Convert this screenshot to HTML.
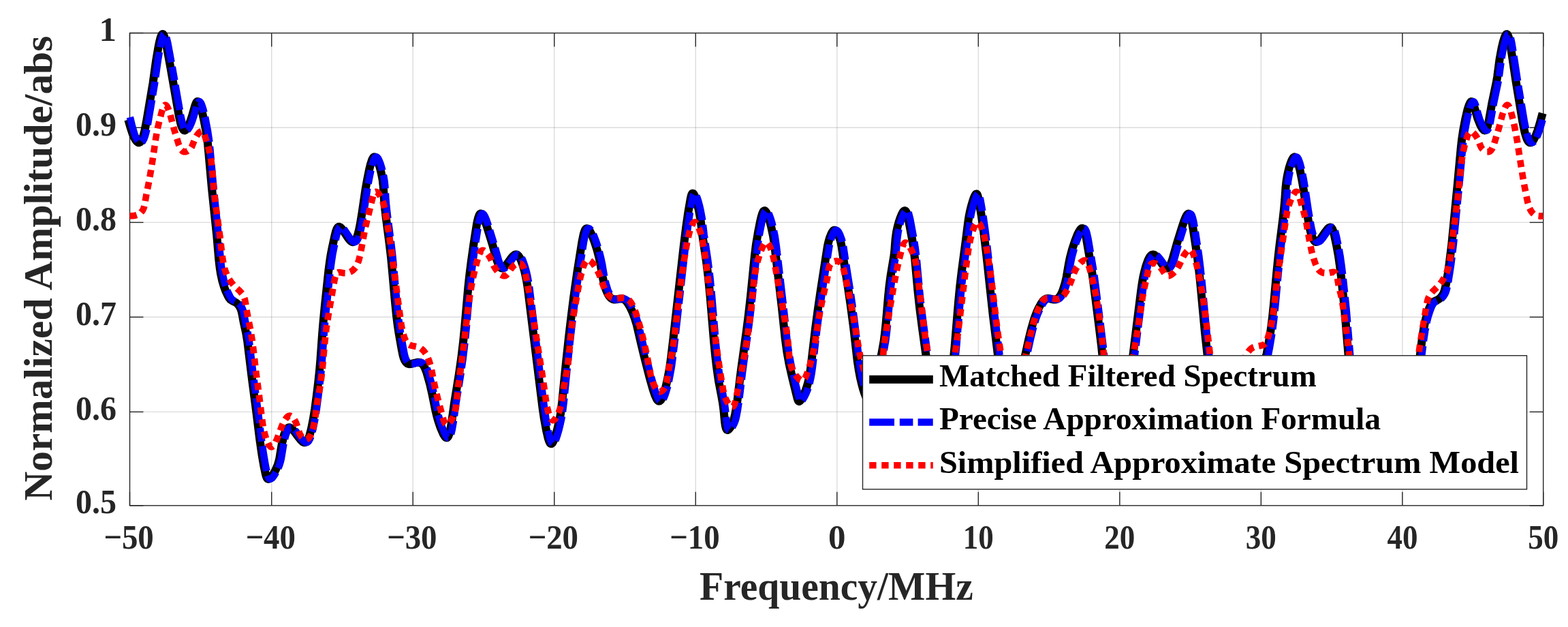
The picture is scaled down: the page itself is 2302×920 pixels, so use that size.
<!DOCTYPE html>
<html><head><meta charset="utf-8"><title>Normalized Amplitude vs Frequency</title>
<style>
html,body{margin:0;padding:0;background:#fff;}
body{width:2302px;height:920px;overflow:hidden;}
svg{display:block;}
text{font-family:"Liberation Serif",serif;font-weight:bold;}
</style></head><body>
<svg width="2302" height="920" viewBox="0 0 2302 920">
<rect x="0" y="0" width="2302" height="920" fill="#ffffff"/>
<g stroke="#262626" stroke-opacity="0.16" stroke-width="1.4" fill="none">
<line x1="398.72" y1="48.5" x2="398.72" y2="741.8"/>
<line x1="606.24" y1="48.5" x2="606.24" y2="741.8"/>
<line x1="813.76" y1="48.5" x2="813.76" y2="741.8"/>
<line x1="1021.28" y1="48.5" x2="1021.28" y2="741.8"/>
<line x1="1228.80" y1="48.5" x2="1228.80" y2="741.8"/>
<line x1="1436.32" y1="48.5" x2="1436.32" y2="741.8"/>
<line x1="1643.84" y1="48.5" x2="1643.84" y2="741.8"/>
<line x1="1851.36" y1="48.5" x2="1851.36" y2="741.8"/>
<line x1="2058.88" y1="48.5" x2="2058.88" y2="741.8"/>
<line x1="190.5" y1="604.40" x2="2265.7" y2="604.40"/>
<line x1="190.5" y1="465.30" x2="2265.7" y2="465.30"/>
<line x1="190.5" y1="326.40" x2="2265.7" y2="326.40"/>
<line x1="190.5" y1="187.30" x2="2265.7" y2="187.30"/>
</g>
<g stroke="#262626" stroke-width="1.4" fill="none">
<line x1="190.50" y1="741.8" x2="190.50" y2="721.80"/>
<line x1="190.50" y1="48.5" x2="190.50" y2="68.50"/>
<line x1="398.72" y1="741.8" x2="398.72" y2="721.80"/>
<line x1="398.72" y1="48.5" x2="398.72" y2="68.50"/>
<line x1="606.24" y1="741.8" x2="606.24" y2="721.80"/>
<line x1="606.24" y1="48.5" x2="606.24" y2="68.50"/>
<line x1="813.76" y1="741.8" x2="813.76" y2="721.80"/>
<line x1="813.76" y1="48.5" x2="813.76" y2="68.50"/>
<line x1="1021.28" y1="741.8" x2="1021.28" y2="721.80"/>
<line x1="1021.28" y1="48.5" x2="1021.28" y2="68.50"/>
<line x1="1228.80" y1="741.8" x2="1228.80" y2="721.80"/>
<line x1="1228.80" y1="48.5" x2="1228.80" y2="68.50"/>
<line x1="1436.32" y1="741.8" x2="1436.32" y2="721.80"/>
<line x1="1436.32" y1="48.5" x2="1436.32" y2="68.50"/>
<line x1="1643.84" y1="741.8" x2="1643.84" y2="721.80"/>
<line x1="1643.84" y1="48.5" x2="1643.84" y2="68.50"/>
<line x1="1851.36" y1="741.8" x2="1851.36" y2="721.80"/>
<line x1="1851.36" y1="48.5" x2="1851.36" y2="68.50"/>
<line x1="2058.88" y1="741.8" x2="2058.88" y2="721.80"/>
<line x1="2058.88" y1="48.5" x2="2058.88" y2="68.50"/>
<line x1="2265.70" y1="741.8" x2="2265.70" y2="721.80"/>
<line x1="2265.70" y1="48.5" x2="2265.70" y2="68.50"/>
<line x1="190.5" y1="741.80" x2="210.50" y2="741.80"/>
<line x1="2265.7" y1="741.80" x2="2245.70" y2="741.80"/>
<line x1="190.5" y1="604.40" x2="210.50" y2="604.40"/>
<line x1="2265.7" y1="604.40" x2="2245.70" y2="604.40"/>
<line x1="190.5" y1="465.30" x2="210.50" y2="465.30"/>
<line x1="2265.7" y1="465.30" x2="2245.70" y2="465.30"/>
<line x1="190.5" y1="326.40" x2="210.50" y2="326.40"/>
<line x1="2265.7" y1="326.40" x2="2245.70" y2="326.40"/>
<line x1="190.5" y1="187.30" x2="210.50" y2="187.30"/>
<line x1="2265.7" y1="187.30" x2="2245.70" y2="187.30"/>
<line x1="190.5" y1="48.50" x2="210.50" y2="48.50"/>
<line x1="2265.7" y1="48.50" x2="2245.70" y2="48.50"/>
<rect x="190.5" y="48.5" width="2075.20" height="693.30"/>
</g>
<g fill="#262626" font-size="51">
<text x="189.00" y="804.5" text-anchor="middle" textLength="73.6" lengthAdjust="spacingAndGlyphs">−50</text>
<text x="397.22" y="804.5" text-anchor="middle" textLength="73.6" lengthAdjust="spacingAndGlyphs">−40</text>
<text x="604.74" y="804.5" text-anchor="middle" textLength="73.6" lengthAdjust="spacingAndGlyphs">−30</text>
<text x="812.26" y="804.5" text-anchor="middle" textLength="73.6" lengthAdjust="spacingAndGlyphs">−20</text>
<text x="1019.78" y="804.5" text-anchor="middle" textLength="73.6" lengthAdjust="spacingAndGlyphs">−10</text>
<text x="1228.80" y="804.5" text-anchor="middle">0</text>
<text x="1436.32" y="804.5" text-anchor="middle" textLength="45" lengthAdjust="spacingAndGlyphs">10</text>
<text x="1643.84" y="804.5" text-anchor="middle" textLength="45" lengthAdjust="spacingAndGlyphs">20</text>
<text x="1851.36" y="804.5" text-anchor="middle" textLength="45" lengthAdjust="spacingAndGlyphs">30</text>
<text x="2058.88" y="804.5" text-anchor="middle" textLength="45" lengthAdjust="spacingAndGlyphs">40</text>
<text x="2265.70" y="804.5" text-anchor="middle" textLength="45" lengthAdjust="spacingAndGlyphs">50</text>
<text x="171" y="753.30" text-anchor="end" textLength="60" lengthAdjust="spacingAndGlyphs">0.5</text>
<text x="171" y="615.90" text-anchor="end" textLength="60" lengthAdjust="spacingAndGlyphs">0.6</text>
<text x="171" y="476.80" text-anchor="end" textLength="60" lengthAdjust="spacingAndGlyphs">0.7</text>
<text x="171" y="337.90" text-anchor="end" textLength="60" lengthAdjust="spacingAndGlyphs">0.8</text>
<text x="171" y="198.80" text-anchor="end" textLength="60" lengthAdjust="spacingAndGlyphs">0.9</text>
<text x="171" y="60.00" text-anchor="end">1</text>
</g>
<text x="1227.85" y="880.3" text-anchor="middle" font-size="60" fill="#262626" textLength="401.7" lengthAdjust="spacingAndGlyphs">Frequency/MHz</text>
<text transform="translate(76.2,393.7) rotate(-90)" x="0" y="0" text-anchor="middle" font-size="60" fill="#262626" textLength="682" lengthAdjust="spacingAndGlyphs">Normalized Amplitude/abs</text>
<g fill="none" stroke-linejoin="round">
<path d="M188.3 175.7L191.6 187.2 194.5 195.8 197.2 202.2 199.8 206.5 201.9 208.6 202.8 209.1 203.8 209.3 204.7 209.1 205.6 208.6 207.0 207.1 208.0 205.4 209.2 202.7 210.5 198.9 212.1 193.1 215.0 178.4 224.5 122.2 229.2 88.5 232.6 68.8 234.2 61.0 235.7 55.2 237.2 51.4 237.8 50.6 238.6 50.0 239.5 50.3 240.1 51.1 240.9 52.9 242.2 56.7 243.8 63.5 250.7 100.9 262.7 169.8 265.4 181.6 266.5 185.4 267.7 188.1 269.4 190.6 270.2 191.2 271.1 191.4 272.1 191.1 273.6 189.7 275.8 186.4 277.9 181.9 280.0 176.3 282.2 169.6 286.3 155.2 287.7 151.5 288.7 149.7 289.5 149.0 290.4 149.0 291.2 149.6 292.4 151.2 293.6 153.9 294.9 157.7 296.3 162.5 299.2 175.2 302.4 191.9 304.6 206.7 305.9 219.7 311.0 276.4 318.2 345.1 321.4 381.9 322.7 392.9 324.1 401.8 326.2 411.5 328.7 420.2 331.5 427.7 335.0 434.9 336.5 437.4 338.5 439.7 341.0 441.3 346.4 444.0 348.0 445.2 350.1 447.3 351.8 449.8 353.1 452.5 354.2 455.3 355.2 459.2 357.8 472.9 361.2 488.5 363.2 500.4 369.6 553.0 376.7 607.6 381.5 646.3 384.5 667.0 387.4 683.8 390.1 696.5 391.0 699.4 391.8 701.2 393.1 702.7 394.1 702.9 395.0 702.7 396.7 701.6 398.7 699.4 400.4 696.9 404.4 690.0 407.6 682.6 409.1 677.9 410.3 673.0 413.7 652.3 416.1 641.6 417.2 637.7 418.6 634.0 419.9 631.3 421.6 628.8 423.2 627.6 424.2 627.3 425.2 627.3 426.1 627.6 427.8 628.6 430.0 630.7 431.9 633.0 439.1 642.6 441.6 645.7 444.5 648.4 446.4 649.2 447.3 649.3 448.3 649.0 449.2 648.6 450.6 647.2 452.6 643.7 454.4 639.1 457.0 629.4 459.9 614.7 462.3 599.9 464.8 581.0 467.2 561.2 469.0 544.3 470.4 528.3 473.1 490.4 474.6 472.5 476.9 448.6 482.4 396.9 484.1 384.0 485.6 374.1 487.7 363.3 491.5 345.7 493.0 339.9 494.4 336.1 496.0 333.6 496.8 333.0 497.8 332.8 498.7 333.1 499.6 333.6 501.1 334.9 502.4 336.4 504.7 339.6 511.4 349.6 513.2 352.0 515.3 354.1 517.1 355.1 518.1 355.2 519.0 355.0 519.9 354.5 521.3 353.1 522.9 350.6 524.4 346.9 525.6 343.1 527.1 337.2 528.5 330.4 531.5 312.6 536.7 277.0 539.2 263.2 542.2 248.5 544.1 240.8 546.0 235.0 546.8 233.2 547.8 231.5 548.5 230.8 549.4 230.3 550.4 230.5 551.2 231.0 552.5 232.5 553.9 235.2 555.8 239.8 557.6 245.5 559.1 251.3 560.6 258.2 561.7 264.1 562.7 273.0 563.8 291.0 564.7 301.9 566.4 316.8 571.8 358.5 574.0 377.4 575.9 397.3 580.0 443.1 582.1 464.0 583.9 477.9 585.7 489.8 589.9 513.4 591.5 521.2 592.6 525.1 594.2 528.8 595.8 531.3 598.0 533.3 599.8 534.0 600.8 534.2 602.8 534.1 611.6 532.0 613.5 531.7 615.5 531.7 617.4 532.3 619.9 534.0 621.8 536.3 623.3 538.9 624.9 542.6 626.6 547.3 631.2 563.7 634.1 576.3 639.5 602.8 641.4 610.6 643.3 617.3 646.5 626.8 650.0 635.1 651.3 637.8 652.9 640.3 654.2 641.8 655.1 642.3 656.1 642.3 656.9 641.8 657.6 641.1 658.6 639.3 659.9 635.6 661.3 629.7 663.0 619.9 666.9 592.1 673.9 548.7 677.3 524.9 680.0 502.1 682.2 480.2 687.3 422.4 689.2 404.5 691.7 384.6 695.3 358.9 699.9 329.3 701.1 323.4 702.1 319.5 703.5 315.7 704.5 314.1 705.3 313.5 706.3 313.5 707.8 314.9 709.3 317.4 711.3 322.0 714.2 330.5 722.8 358.2 729.6 382.3 731.0 386.1 732.2 388.8 733.2 390.5 734.4 392.1 735.9 393.4 736.9 393.6 737.9 393.6 738.8 393.2 740.4 392.0 743.7 388.3 749.5 380.1 752.0 377.0 753.4 375.6 755.0 374.3 756.8 373.5 757.8 373.4 758.7 373.6 759.6 374.1 761.1 375.4 762.3 377.0 763.8 379.6 765.1 382.3 767.8 389.9 770.0 397.5 771.8 405.3 773.3 413.2 774.7 422.1 796.6 598.8 798.8 613.6 801.8 630.3 804.7 643.0 805.9 646.8 807.2 649.5 807.7 650.4 808.5 651.0 809.5 651.1 810.3 650.6 811.0 649.9 812.5 647.3 814.0 643.6 815.9 637.9 818.1 630.2 820.2 621.5 821.9 613.6 823.2 605.7 825.2 589.9 831.1 531.2 835.2 493.4 838.6 464.6 842.1 436.8 847.3 400.1 854.5 354.7 856.7 343.9 857.9 340.1 859.0 337.3 860.2 335.7 861.1 335.2 862.0 335.2 862.9 335.6 864.4 337.0 866.1 339.4 868.0 343.0 870.0 347.5 872.5 354.1 876.5 366.5 879.5 378.1 881.6 387.9 884.7 406.6 886.7 415.4 889.6 424.9 891.1 428.6 892.9 432.2 894.5 434.8 896.5 437.0 898.1 438.2 899.9 439.1 900.8 439.4 902.8 439.5 904.8 439.3 909.7 438.4 912.7 438.2 914.7 438.6 917.3 440.0 918.8 441.3 920.1 442.8 922.4 446.1 925.4 451.3 928.4 457.6 931.9 467.0 934.8 476.6 941.6 505.8 945.6 522.3 953.5 553.3 958.7 571.6 961.6 580.1 964.1 585.6 965.3 587.2 966.8 588.5 967.8 588.6 968.7 588.3 970.2 587.0 972.2 583.5 973.7 579.8 975.6 574.1 977.7 566.4 979.7 557.6 981.6 547.8 983.2 539.0 985.0 526.1 988.2 499.3 1003.4 364.1 1007.1 334.3 1010.2 312.5 1013.6 292.8 1014.4 288.9 1015.2 286.0 1016.1 284.2 1016.9 283.7 1017.8 284.1 1018.5 284.8 1019.5 286.6 1021.0 290.3 1022.6 295.0 1024.4 301.8 1026.0 308.6 1028.4 321.4 1031.1 344.2 1036.7 381.8 1039.9 407.6 1042.6 435.5 1048.3 503.2 1050.2 522.2 1052.0 538.0 1055.0 558.8 1059.5 582.4 1061.2 592.3 1062.5 602.2 1064.0 618.1 1064.8 624.1 1065.7 628.0 1066.5 629.8 1067.1 630.6 1067.9 631.0 1068.9 630.8 1070.4 629.5 1072.8 626.3 1075.1 621.9 1076.6 618.2 1077.8 614.4 1078.9 609.5 1080.2 602.6 1082.6 586.8 1087.9 543.1 1095.5 488.6 1098.6 464.8 1102.1 434.0 1107.8 376.3 1110.0 358.4 1113.0 340.7 1115.9 325.9 1117.7 318.1 1119.2 313.4 1120.4 310.6 1121.0 309.8 1121.8 309.2 1122.7 309.1 1123.6 309.7 1124.3 310.4 1125.4 312.1 1127.0 315.7 1128.7 320.4 1130.5 326.1 1132.2 332.9 1135.1 346.6 1137.3 361.5 1147.7 449.9 1152.7 496.6 1155.4 516.4 1158.6 534.1 1163.5 555.6 1170.7 584.7 1171.7 587.6 1172.2 588.4 1172.9 589.0 1173.9 588.8 1174.6 588.2 1175.8 586.6 1178.4 582.3 1181.0 576.9 1182.9 572.2 1184.5 567.5 1186.2 561.7 1187.5 555.9 1189.0 548.0 1190.3 539.1 1197.0 482.5 1200.7 454.7 1204.7 427.0 1214.5 363.8 1215.4 358.9 1216.6 354.0 1218.0 349.2 1219.4 345.5 1220.6 342.7 1222.1 340.1 1223.3 338.5 1224.1 337.9 1225.1 337.7 1226.0 337.9 1227.6 339.2 1229.2 341.7 1230.5 344.3 1232.0 348.1 1233.6 352.8 1234.6 356.7 1235.6 361.6 1238.7 382.4 1245.1 422.9 1248.6 446.6 1253.2 481.3 1258.8 530.0 1260.8 542.8 1263.0 554.6 1265.1 563.4 1267.2 571.1 1269.4 577.8 1271.3 582.4 1273.9 586.7 1275.2 588.2 1276.0 588.8 1277.0 589.0 1277.8 588.6 1279.0 587.0 1280.1 584.2 1281.2 580.3 1284.5 566.7 1294.2 519.7 1297.7 500.0 1299.1 489.1 1300.4 477.2 1303.9 436.3 1305.6 419.4 1307.6 404.5 1312.5 374.9 1313.3 368.0 1314.6 351.0 1316.1 340.1 1317.6 333.3 1319.4 326.5 1321.6 319.9 1323.5 315.2 1325.3 311.7 1326.5 310.1 1327.3 309.4 1328.2 309.1 1329.1 309.3 1329.9 310.0 1330.9 311.7 1331.6 313.6 1333.6 321.3 1338.9 349.8 1341.3 364.6 1343.4 382.5 1347.5 427.3 1350.2 452.2 1353.8 480.0 1363.6 551.3 1366.1 572.2 1368.5 594.0 1369.5 601.0 1370.6 606.9 1371.8 611.7 1373.4 616.5 1374.9 620.2 1377.1 624.7 1379.2 628.1 1380.5 629.6 1381.3 630.2 1382.2 630.4 1383.1 629.9 1384.1 628.2 1385.4 623.4 1389.2 593.6 1395.3 559.2 1398.2 539.4 1400.0 524.5 1401.7 507.6 1406.9 444.8 1409.4 418.9 1411.9 398.0 1417.7 354.4 1421.6 323.6 1422.7 316.7 1424.1 309.9 1426.0 302.1 1428.0 295.4 1429.6 290.6 1431.2 287.0 1432.3 285.3 1433.0 284.6 1433.9 284.5 1434.6 285.3 1435.4 287.1 1437.1 294.9 1440.7 315.6 1443.8 337.4 1448.0 372.1 1457.7 461.6 1463.7 510.3 1466.3 532.1 1467.6 542.0 1469.2 550.9 1471.3 560.7 1473.5 569.4 1475.5 576.1 1477.5 581.7 1479.2 585.3 1481.0 587.8 1481.8 588.4 1482.7 588.8 1483.7 588.7 1484.5 588.1 1485.8 586.6 1486.8 584.9 1488.7 580.3 1491.2 572.7 1498.2 548.7 1501.4 537.1 1504.2 525.4 1510.7 496.1 1514.3 481.6 1518.3 468.1 1520.3 462.5 1522.6 456.9 1525.6 450.6 1528.5 445.4 1530.8 442.1 1532.2 440.7 1533.7 439.4 1535.5 438.4 1536.4 438.1 1538.4 437.9 1540.4 438.1 1547.3 439.5 1549.3 439.5 1550.3 439.3 1552.1 438.5 1553.7 437.4 1555.7 435.1 1557.4 432.6 1559.1 429.0 1560.6 425.3 1563.6 415.8 1565.6 407.0 1569.0 387.3 1571.0 377.5 1574.1 365.9 1577.8 354.5 1581.8 344.3 1584.1 339.8 1585.7 337.3 1587.0 335.8 1587.9 335.2 1588.8 335.0 1589.7 335.3 1591.0 336.8 1591.9 338.6 1592.9 341.4 1594.9 350.2 1602.3 393.6 1604.8 410.4 1613.5 478.8 1617.0 507.6 1619.9 535.5 1624.6 586.3 1625.7 596.2 1626.9 604.1 1628.3 612.0 1630.2 620.8 1632.6 630.5 1635.1 639.2 1637.0 644.9 1638.6 648.5 1639.7 650.2 1640.4 650.9 1641.3 651.3 1642.2 650.9 1643.4 649.4 1644.6 646.6 1645.8 642.8 1648.7 630.1 1651.8 612.4 1654.0 596.5 1675.4 424.8 1677.0 414.0 1678.4 406.1 1680.2 398.3 1682.3 390.6 1685.0 383.0 1686.2 380.3 1687.6 377.6 1688.7 376.0 1690.1 374.6 1691.9 373.6 1692.9 373.5 1693.8 373.6 1694.8 374.0 1696.4 375.2 1697.8 376.6 1700.4 379.6 1706.8 388.5 1708.8 390.8 1710.2 392.2 1711.9 393.3 1712.8 393.6 1713.8 393.5 1714.8 393.2 1716.3 391.9 1717.4 390.2 1718.4 388.5 1720.9 382.0 1727.7 357.9 1735.4 333.1 1738.3 324.5 1740.1 319.9 1741.9 316.3 1743.0 314.7 1743.8 314.0 1744.7 313.6 1745.6 314.0 1746.3 314.7 1747.3 316.4 1748.5 320.2 1749.7 325.1 1751.8 336.9 1757.5 374.5 1759.6 391.3 1761.8 411.2 1769.1 488.9 1772.8 522.7 1774.8 538.6 1777.0 553.4 1784.0 594.8 1787.2 619.6 1788.3 627.6 1789.5 633.4 1790.5 637.3 1791.6 640.1 1792.7 641.8 1793.5 642.4 1794.5 642.6 1795.4 642.3 1796.9 641.0 1798.7 638.6 1801.0 634.2 1803.5 628.7 1805.5 623.1 1807.3 617.4 1809.5 608.6 1815.4 580.2 1818.8 565.6 1823.6 548.3 1825.3 543.5 1826.9 539.9 1828.4 537.3 1830.2 535.0 1832.6 533.1 1834.5 532.4 1836.4 532.1 1838.4 532.1 1845.4 533.1 1848.4 533.3 1851.3 532.7 1853.1 531.8 1855.2 529.7 1856.8 527.2 1858.3 523.5 1859.5 519.7 1861.6 508.9 1864.1 494.1 1866.2 480.2 1868.0 465.4 1869.9 447.4 1874.0 402.6 1876.5 377.7 1878.5 359.9 1883.3 322.2 1885.1 306.3 1886.3 293.3 1887.5 275.4 1888.6 265.4 1889.6 259.5 1891.0 252.6 1892.7 245.8 1894.5 240.1 1896.3 235.5 1897.7 232.8 1898.9 231.2 1899.7 230.6 1900.6 230.3 1901.6 230.7 1902.3 231.3 1903.4 233.0 1904.2 234.8 1906.2 240.5 1908.4 249.2 1911.0 262.0 1913.1 273.8 1918.5 310.4 1921.9 330.1 1923.3 336.9 1924.8 342.8 1926.0 346.6 1927.5 350.3 1929.1 352.8 1930.5 354.3 1931.3 354.8 1932.3 355.0 1933.3 354.9 1935.1 354.0 1937.3 352.0 1939.2 349.7 1946.1 339.8 1948.5 336.7 1950.6 334.5 1952.3 333.6 1953.3 333.5 1954.2 333.9 1955.0 334.5 1956.1 336.2 1957.6 339.9 1959.1 345.7 1962.2 360.4 1964.9 375.1 1967.0 390.0 1969.1 406.9 1974.0 453.6 1981.2 540.3 1983.5 564.2 1985.8 584.1 1988.0 599.9 1990.9 616.7 1993.7 630.4 1996.0 639.1 1997.8 643.8 1999.9 647.2 2001.3 648.6 2002.2 649.1 2003.1 649.3 2004.1 649.2 2005.9 648.3 2008.8 645.6 2011.4 642.5 2018.5 632.9 2020.5 630.6 2022.7 628.6 2024.4 627.6 2025.4 627.3 2026.3 627.3 2027.3 627.7 2028.8 628.9 2030.5 631.4 2031.8 634.1 2033.2 637.9 2034.3 641.7 2036.5 651.5 2040.1 672.2 2041.5 678.0 2043.0 682.7 2046.6 691.0 2050.4 698.0 2052.1 700.5 2053.4 702.0 2055.0 703.2 2056.0 703.5 2056.9 703.3 2057.7 702.7 2058.3 701.9 2059.2 700.1 2060.2 697.3 2062.7 685.6 2065.4 669.8 2067.7 654.0 2071.8 623.2 2087.7 498.2 2090.0 483.4 2092.3 471.6 2094.1 464.8 2095.8 459.1 2098.2 452.5 2100.3 447.9 2101.9 445.4 2104.0 443.3 2105.7 442.2 2110.2 440.2 2112.8 438.6 2115.0 436.6 2117.5 433.5 2119.4 430.0 2120.8 426.2 2122.0 421.4 2123.6 413.5 2125.6 401.7 2127.6 387.9 2131.2 359.1 2140.3 265.5 2144.7 217.7 2146.1 204.8 2148.2 190.9 2151.2 175.2 2154.1 162.5 2155.5 157.7 2156.8 154.0 2158.1 151.2 2159.2 149.6 2160.1 149.1 2161.0 149.2 2161.7 149.9 2162.7 151.7 2163.7 154.5 2167.9 168.9 2169.7 174.6 2172.3 181.1 2174.4 185.6 2176.5 189.0 2177.9 190.5 2178.7 191.1 2179.6 191.4 2180.6 191.2 2181.4 190.6 2182.5 189.0 2183.9 185.2 2185.6 178.4 2190.5 150.9 2196.9 120.5 2198.2 112.6 2201.6 86.9 2204.7 70.1 2206.8 61.4 2208.9 54.7 2210.6 51.1 2211.2 50.4 2212.2 50.0 2213.0 50.5 2213.6 51.4 2214.4 53.2 2215.5 57.0 2216.8 62.9 2219.7 80.6 2225.5 119.2 2235.5 179.4 2237.2 188.2 2238.8 195.1 2240.5 200.8 2241.9 204.5 2242.9 206.3 2244.1 207.9 2245.7 209.1 2246.7 209.3 2247.6 209.1 2249.3 208.0 2250.6 206.5 2251.7 204.8 2254.4 199.5 2257.6 191.0 2260.5 181.5 2264.7 166.1" stroke="#000000" stroke-width="12"/>
<path d="M190.9 171.9L194.2 185.4 197.5 196.7 199.8 202.2 201.8 205.7 203.0 207.3 204.5 208.6 205.4 209.1 206.4 209.3 207.3 209.1 208.2 208.6 209.6 207.1 211.5 203.6 212.8 199.9 214.5 194.1 216.0 187.2 217.5 179.4 227.0 123.2 232.0 87.5 235.4 67.8 236.8 61.0 238.3 55.2 239.8 51.4 240.4 50.6 241.2 50.0 242.1 50.3 242.7 51.1 243.5 52.9 244.8 56.7 246.4 63.5 253.3 100.9 265.3 169.8 268.0 181.6 269.1 185.4 270.3 188.1 272.0 190.6 272.8 191.2 273.7 191.4 274.7 191.1 276.2 189.7 278.4 186.4 280.5 181.9 282.6 176.3 284.8 169.6 288.9 155.2 290.3 151.5 291.3 149.7 292.1 149.0 293.0 149.0 293.8 149.6 295.0 151.2 296.2 153.9 297.5 157.7 298.9 162.5 301.8 175.2 305.0 191.9 307.2 206.7 308.5 219.7 313.6 276.4 320.8 345.1 324.0 381.9 325.3 392.9 326.7 401.8 328.8 411.5 331.3 420.2 334.1 427.7 337.6 434.9 339.1 437.4 341.1 439.7 343.6 441.3 349.0 444.0 350.6 445.2 352.7 447.3 354.4 449.8 355.7 452.5 356.8 455.3 357.8 459.2 360.4 472.9 363.8 488.5 365.8 500.4 372.2 553.0 379.3 607.6 384.1 646.3 387.1 667.0 390.0 683.8 392.7 696.5 393.6 699.4 394.4 701.2 395.7 702.7 396.7 702.9 397.6 702.7 399.3 701.6 401.3 699.4 403.0 696.9 407.0 690.0 410.2 682.6 411.7 677.9 412.9 673.0 416.3 652.3 418.7 641.6 419.8 637.7 421.2 634.0 422.5 631.3 424.2 628.8 425.8 627.6 426.8 627.3 427.8 627.3 428.7 627.6 430.4 628.6 432.6 630.7 434.5 633.0 441.7 642.6 444.2 645.7 447.1 648.4 449.0 649.2 449.9 649.3 450.9 649.0 451.8 648.6 453.2 647.2 455.2 643.7 457.0 639.1 459.6 629.4 462.5 614.7 464.9 599.9 467.4 581.0 469.8 561.2 471.6 544.3 473.0 528.3 475.7 490.4 477.2 472.5 479.5 448.6 485.0 396.9 486.7 384.0 488.2 374.1 490.3 363.3 494.1 345.7 495.6 339.9 497.0 336.1 498.6 333.6 499.4 333.0 500.4 332.8 501.3 333.1 502.2 333.6 503.7 334.9 505.0 336.4 507.3 339.6 514.0 349.6 515.8 352.0 517.9 354.1 519.7 355.1 520.7 355.2 521.6 355.0 522.5 354.5 523.9 353.1 525.5 350.6 527.0 346.9 528.2 343.1 529.7 337.2 531.1 330.4 534.1 312.6 539.3 277.0 541.8 263.2 544.8 248.5 546.7 240.8 548.6 235.0 549.4 233.2 550.4 231.5 551.1 230.8 552.0 230.3 553.0 230.5 553.8 231.0 555.1 232.5 556.5 235.2 558.4 239.8 560.2 245.5 561.7 251.3 563.2 258.2 564.3 264.1 565.3 273.0 566.4 291.0 567.3 301.9 569.0 316.8 574.4 358.5 576.6 377.4 578.5 397.3 582.6 443.1 584.7 464.0 586.5 477.9 588.3 489.8 592.5 513.4 594.1 521.2 595.2 525.1 596.8 528.8 598.4 531.3 600.6 533.3 602.4 534.0 603.4 534.2 605.4 534.1 614.2 532.0 616.1 531.7 618.1 531.7 620.0 532.3 622.5 534.0 624.4 536.3 625.9 538.9 627.5 542.6 629.2 547.3 633.8 563.7 636.7 576.3 642.1 602.8 644.0 610.6 645.9 617.3 649.1 626.8 652.6 635.1 653.9 637.8 655.5 640.3 656.8 641.8 657.7 642.3 658.7 642.3 659.5 641.8 660.2 641.1 661.2 639.3 662.5 635.6 663.9 629.7 665.6 619.9 669.5 592.1 676.5 548.7 679.9 524.9 682.6 502.1 684.8 480.2 689.9 422.4 691.8 404.5 694.3 384.6 697.9 358.9 702.5 329.3 703.7 323.4 704.7 319.5 706.1 315.7 707.1 314.1 707.9 313.5 708.9 313.5 710.4 314.9 711.9 317.4 713.9 322.0 716.8 330.5 725.4 358.2 732.2 382.3 733.6 386.1 734.8 388.8 735.8 390.5 737.0 392.1 738.5 393.4 739.5 393.6 740.5 393.6 741.4 393.2 743.0 392.0 746.3 388.3 752.1 380.1 754.6 377.0 756.0 375.6 757.6 374.3 759.4 373.5 760.4 373.4 761.3 373.6 762.2 374.1 763.7 375.4 764.9 377.0 766.4 379.6 767.7 382.3 770.4 389.9 772.6 397.5 774.4 405.3 775.9 413.2 777.3 422.1 799.2 598.8 801.4 613.6 804.4 630.3 807.3 643.0 808.5 646.8 809.8 649.5 810.3 650.4 811.1 651.0 812.1 651.1 812.9 650.6 813.6 649.9 815.1 647.3 816.6 643.6 818.5 637.9 820.7 630.2 822.8 621.5 824.5 613.6 825.8 605.7 827.8 589.9 833.7 531.2 837.8 493.4 841.2 464.6 844.7 436.8 849.9 400.1 857.1 354.7 859.3 343.9 860.5 340.1 861.6 337.3 862.8 335.7 863.7 335.2 864.6 335.2 865.5 335.6 867.0 337.0 868.7 339.4 870.6 343.0 872.6 347.5 875.1 354.1 879.1 366.5 882.1 378.1 884.2 387.9 887.3 406.6 889.3 415.4 892.2 424.9 893.7 428.6 895.5 432.2 897.1 434.8 899.1 437.0 900.7 438.2 902.5 439.1 903.4 439.4 905.4 439.5 907.4 439.3 912.3 438.4 915.3 438.2 917.3 438.6 919.9 440.0 921.4 441.3 922.7 442.8 925.0 446.1 928.0 451.3 931.0 457.6 934.5 467.0 937.4 476.6 944.2 505.8 948.2 522.3 956.1 553.3 961.3 571.6 964.2 580.1 966.7 585.6 967.9 587.2 969.4 588.5 970.4 588.6 971.3 588.3 972.8 587.0 974.8 583.5 976.3 579.8 978.2 574.1 980.3 566.4 982.3 557.6 984.2 547.8 985.8 539.0 987.6 526.1 990.8 499.3 1006.0 364.1 1009.7 334.3 1012.8 312.5 1016.2 292.8 1017.0 288.9 1017.8 286.0 1018.7 284.2 1019.5 283.7 1020.4 284.1 1021.1 284.8 1022.1 286.6 1023.6 290.3 1025.2 295.0 1027.0 301.8 1028.6 308.6 1031.0 321.4 1033.7 344.2 1039.3 381.8 1042.5 407.6 1045.2 435.5 1050.9 503.2 1052.8 522.2 1054.6 538.0 1057.6 558.8 1062.1 582.4 1063.8 592.3 1065.1 602.2 1066.6 618.1 1067.4 624.1 1068.3 628.0 1069.1 629.8 1069.7 630.6 1070.5 631.0 1071.5 630.8 1073.0 629.5 1075.4 626.3 1077.7 621.9 1079.2 618.2 1080.4 614.4 1081.5 609.5 1082.8 602.6 1085.2 586.8 1090.5 543.1 1098.1 488.6 1101.2 464.8 1104.7 434.0 1110.4 376.3 1112.6 358.4 1115.6 340.7 1118.5 325.9 1120.3 318.1 1121.8 313.4 1123.0 310.6 1123.6 309.8 1124.4 309.2 1125.3 309.1 1126.2 309.7 1126.9 310.4 1128.0 312.1 1129.6 315.7 1131.3 320.4 1133.1 326.1 1134.8 332.9 1137.7 346.6 1139.9 361.5 1150.3 449.9 1155.3 496.6 1158.0 516.4 1161.2 534.1 1166.1 555.6 1173.3 584.7 1174.3 587.6 1174.8 588.4 1175.5 589.0 1176.5 588.8 1177.2 588.2 1178.4 586.6 1181.0 582.3 1183.6 576.9 1185.5 572.2 1187.1 567.5 1188.8 561.7 1190.1 555.9 1191.6 548.0 1192.9 539.1 1199.6 482.5 1203.3 454.7 1207.3 427.0 1217.1 363.8 1218.0 358.9 1219.2 354.0 1220.6 349.2 1222.0 345.5 1223.2 342.7 1224.7 340.1 1225.9 338.5 1226.7 337.9 1227.7 337.7 1228.6 337.9 1230.2 339.2 1231.8 341.7 1233.1 344.3 1234.6 348.1 1236.2 352.8 1237.2 356.7 1238.2 361.6 1241.3 382.4 1247.7 422.9 1251.2 446.6 1255.8 481.3 1261.4 530.0 1263.4 542.8 1265.6 554.6 1267.7 563.4 1269.8 571.1 1272.0 577.8 1273.9 582.4 1276.5 586.7 1277.8 588.2 1278.6 588.8 1279.6 589.0 1280.4 588.6 1281.6 587.0 1282.7 584.2 1283.8 580.3 1287.1 566.7 1296.8 519.7 1300.3 500.0 1301.7 489.1 1303.0 477.2 1306.5 436.3 1308.2 419.4 1310.2 404.5 1315.1 374.9 1315.9 368.0 1317.2 351.0 1318.7 340.1 1320.2 333.3 1322.0 326.5 1324.2 319.9 1326.1 315.2 1327.9 311.7 1329.1 310.1 1329.9 309.4 1330.8 309.1 1331.7 309.3 1332.5 310.0 1333.5 311.7 1334.2 313.6 1336.2 321.3 1341.5 349.8 1343.9 364.6 1346.0 382.5 1350.1 427.3 1352.8 452.2 1356.4 480.0 1366.2 551.3 1368.7 572.2 1371.1 594.0 1372.1 601.0 1373.2 606.9 1374.4 611.7 1376.0 616.5 1377.5 620.2 1379.7 624.7 1381.8 628.1 1383.1 629.6 1383.9 630.2 1384.8 630.4 1385.7 629.9 1386.7 628.2 1388.0 623.4 1391.8 593.6 1397.9 559.2 1400.8 539.4 1402.6 524.5 1404.3 507.6 1409.5 444.8 1412.0 418.9 1414.5 398.0 1420.3 354.4 1424.2 323.6 1425.3 316.7 1426.7 309.9 1428.6 302.1 1430.6 295.4 1432.2 290.6 1433.8 287.0 1434.9 285.3 1435.6 284.6 1436.5 284.5 1437.2 285.3 1438.0 287.1 1439.7 294.9 1443.3 315.6 1446.4 337.4 1450.6 372.1 1460.3 461.6 1466.3 510.3 1468.9 532.1 1470.2 542.0 1471.8 550.9 1473.9 560.7 1476.1 569.4 1478.1 576.1 1480.1 581.7 1481.8 585.3 1483.6 587.8 1484.4 588.4 1485.3 588.8 1486.3 588.7 1487.1 588.1 1488.4 586.6 1489.4 584.9 1491.3 580.3 1493.8 572.7 1500.8 548.7 1504.0 537.1 1506.8 525.4 1513.3 496.1 1516.9 481.6 1520.9 468.1 1522.9 462.5 1525.2 456.9 1528.2 450.6 1531.1 445.4 1533.4 442.1 1534.8 440.7 1536.3 439.4 1538.1 438.4 1539.0 438.1 1541.0 437.9 1543.0 438.1 1549.9 439.5 1551.9 439.5 1552.9 439.3 1554.7 438.5 1556.3 437.4 1558.3 435.1 1560.0 432.6 1561.7 429.0 1563.2 425.3 1566.2 415.8 1568.2 407.0 1571.6 387.3 1573.6 377.5 1576.7 365.9 1580.4 354.5 1584.4 344.3 1586.7 339.8 1588.3 337.3 1589.6 335.8 1590.5 335.2 1591.4 335.0 1592.3 335.3 1593.6 336.8 1594.5 338.6 1595.5 341.4 1597.5 350.2 1604.9 393.6 1607.4 410.4 1616.1 478.8 1619.6 507.6 1622.5 535.5 1627.2 586.3 1628.3 596.2 1629.5 604.1 1630.9 612.0 1632.8 620.8 1635.2 630.5 1637.7 639.2 1639.6 644.9 1641.2 648.5 1642.3 650.2 1643.0 650.9 1643.9 651.3 1644.8 650.9 1646.0 649.4 1647.2 646.6 1648.4 642.8 1651.3 630.1 1654.4 612.4 1656.6 596.5 1678.0 424.8 1679.6 414.0 1681.0 406.1 1682.8 398.3 1684.9 390.6 1687.6 383.0 1688.8 380.3 1690.2 377.6 1691.3 376.0 1692.7 374.6 1694.5 373.6 1695.5 373.5 1696.4 373.6 1697.4 374.0 1699.0 375.2 1700.4 376.6 1703.0 379.6 1709.4 388.5 1711.4 390.8 1712.8 392.2 1714.5 393.3 1715.4 393.6 1716.4 393.5 1717.4 393.2 1718.9 391.9 1720.0 390.2 1721.0 388.5 1723.5 382.0 1730.3 357.9 1738.0 333.1 1740.9 324.5 1742.7 319.9 1744.5 316.3 1745.6 314.7 1746.4 314.0 1747.3 313.6 1748.2 314.0 1748.9 314.7 1749.9 316.4 1751.1 320.2 1752.3 325.1 1754.4 336.9 1760.1 374.5 1762.2 391.3 1764.4 411.2 1771.7 488.9 1775.4 522.7 1777.4 538.6 1779.6 553.4 1786.6 594.8 1789.8 619.6 1790.9 627.6 1792.1 633.4 1793.1 637.3 1794.2 640.1 1795.3 641.8 1796.1 642.4 1797.1 642.6 1798.0 642.3 1799.5 641.0 1801.3 638.6 1803.6 634.2 1806.1 628.7 1808.1 623.1 1809.9 617.4 1812.1 608.6 1818.0 580.2 1821.4 565.6 1826.2 548.3 1827.9 543.5 1829.5 539.9 1831.0 537.3 1832.8 535.0 1835.2 533.1 1837.1 532.4 1839.0 532.1 1841.0 532.1 1848.0 533.1 1851.0 533.3 1853.9 532.7 1855.7 531.8 1857.8 529.7 1859.4 527.2 1860.9 523.5 1862.1 519.7 1864.2 508.9 1866.7 494.1 1868.8 480.2 1870.6 465.4 1872.5 447.4 1876.6 402.6 1879.1 377.7 1881.1 359.9 1885.9 322.2 1887.7 306.3 1888.9 293.3 1890.1 275.4 1891.2 265.4 1892.2 259.5 1893.6 252.6 1895.3 245.8 1897.1 240.1 1898.9 235.5 1900.3 232.8 1901.5 231.2 1902.3 230.6 1903.2 230.3 1904.2 230.7 1904.9 231.3 1906.0 233.0 1906.8 234.8 1908.8 240.5 1911.0 249.2 1913.6 262.0 1915.7 273.8 1921.1 310.4 1924.5 330.1 1925.9 336.9 1927.4 342.8 1928.6 346.6 1930.1 350.3 1931.7 352.8 1933.1 354.3 1933.9 354.8 1934.9 355.0 1935.9 354.9 1937.7 354.0 1939.9 352.0 1941.8 349.7 1948.7 339.8 1951.1 336.7 1953.2 334.5 1954.9 333.6 1955.9 333.5 1956.8 333.9 1957.6 334.5 1958.7 336.2 1960.2 339.9 1961.7 345.7 1964.8 360.4 1967.5 375.1 1969.6 390.0 1971.7 406.9 1976.6 453.6 1983.8 540.3 1986.1 564.2 1988.4 584.1 1990.6 599.9 1993.5 616.7 1996.3 630.4 1998.6 639.1 2000.4 643.8 2002.5 647.2 2003.9 648.6 2004.8 649.1 2005.7 649.3 2006.7 649.2 2008.5 648.3 2011.4 645.6 2014.0 642.5 2021.1 632.9 2023.1 630.6 2025.3 628.6 2027.0 627.6 2028.0 627.3 2028.9 627.3 2029.9 627.7 2031.4 628.9 2033.1 631.4 2034.4 634.1 2035.8 637.9 2036.9 641.7 2039.1 651.5 2042.9 673.1 2044.4 678.9 2046.0 683.7 2049.6 691.9 2051.5 695.5 2053.5 698.9 2055.4 701.3 2056.8 702.7 2057.6 703.2 2058.6 703.5 2059.5 703.3 2060.3 702.7 2061.4 701.0 2062.5 698.2 2063.3 695.3 2066.0 681.6 2068.5 666.8 2074.8 620.2 2090.3 498.2 2092.4 484.4 2094.7 472.6 2096.7 464.8 2099.1 457.2 2101.6 450.7 2103.9 446.2 2105.8 443.9 2107.4 442.7 2112.8 440.2 2116.1 438.0 2118.9 435.1 2121.1 431.8 2122.8 428.1 2123.9 424.3 2126.4 412.6 2128.3 400.7 2130.4 386.9 2133.9 358.1 2143.0 264.5 2147.3 217.7 2148.7 204.8 2150.8 190.9 2153.8 175.2 2156.7 162.5 2158.1 157.7 2159.4 154.0 2160.7 151.2 2161.8 149.6 2162.7 149.1 2163.6 149.2 2164.3 149.9 2165.3 151.7 2166.3 154.5 2170.5 168.9 2172.3 174.6 2174.9 181.1 2177.0 185.6 2179.1 189.0 2180.5 190.5 2181.3 191.1 2182.2 191.4 2183.2 191.2 2184.0 190.6 2185.1 189.0 2186.5 185.2 2188.2 178.4 2193.1 150.9 2199.5 120.5 2200.8 112.6 2204.2 86.9 2207.3 70.1 2209.4 61.4 2211.5 54.7 2213.2 51.1 2213.8 50.4 2214.8 50.0 2215.6 50.5 2216.2 51.4 2217.0 53.2 2218.1 57.0 2219.4 62.9 2222.3 80.6 2228.1 119.2 2237.9 178.4 2240.9 193.1 2242.5 198.9 2243.8 202.7 2245.0 205.4 2246.0 207.1 2247.4 208.6 2248.3 209.1 2249.3 209.3 2250.2 209.1 2251.1 208.6 2253.2 206.5 2255.8 202.2 2258.5 195.8 2261.4 187.2 2264.7 175.7" stroke="#0000ff" stroke-width="10.5" stroke-dasharray="37 7 20 7"/>
<path d="M190.5 316.8L194.5 316.8 198.4 316.2 202.2 314.9 204.8 313.5 207.2 311.6 209.1 309.3 210.5 306.6 211.5 303.8 212.4 299.9 214.6 287.1 218.3 268.5 221.0 253.7 224.0 234.9 228.7 203.3 231.1 189.5 233.6 178.8 237.4 164.3 239.2 158.5 240.0 156.7 241.1 155.0 241.8 154.3 242.7 154.0 243.6 154.3 244.4 155.0 245.5 156.6 247.2 160.3 250.1 168.8 255.1 188.1 262.4 212.1 264.7 217.6 266.3 220.1 267.7 221.5 269.4 222.5 270.4 222.8 272.4 222.7 275.2 221.8 276.9 220.7 278.5 219.5 279.9 218.0 281.5 215.5 286.3 203.5 288.8 199.1 291.2 195.9 292.6 194.5 294.1 193.2 296.0 192.5 297.0 192.6 297.8 193.2 299.0 194.7 299.9 196.6 300.8 199.4 306.5 218.6 308.4 226.4 309.8 234.2 311.4 247.1 313.8 276.0 315.6 292.9 323.0 347.5 326.5 377.3 328.3 388.1 329.7 393.9 331.6 399.6 333.9 405.2 336.3 409.5 339.1 413.7 342.9 418.3 345.7 421.2 352.3 427.3 355.6 431.1 357.7 434.5 359.4 439.2 360.4 444.1 362.7 458.9 368.0 485.4 370.1 498.2 371.8 511.1 375.6 543.9 380.6 581.6 385.1 618.3 386.3 626.2 387.5 632.1 388.7 636.9 390.2 641.7 392.3 647.3 393.9 651.0 395.4 653.6 396.7 655.1 397.5 655.7 398.5 655.9 399.4 655.7 401.0 654.5 402.8 652.1 404.3 649.5 407.5 642.1 413.4 626.2 415.4 621.6 417.7 617.2 419.3 614.7 421.2 612.3 422.7 611.0 424.5 610.2 425.5 610.1 426.5 610.2 428.2 611.2 430.4 613.2 432.1 615.7 434.1 619.2 435.6 622.8 438.8 633.4 440.3 637.1 442.4 640.5 443.8 641.9 445.3 643.2 447.0 644.2 448.9 644.8 449.9 644.7 451.8 643.9 453.3 642.6 454.5 641.1 456.0 638.5 457.2 635.7 459.8 628.1 461.8 619.4 462.9 612.5 465.1 593.6 468.8 573.9 470.5 564.1 473.0 544.2 477.0 500.4 479.3 480.5 483.0 456.8 491.0 411.5 492.1 406.6 493.1 403.8 494.0 402.0 495.3 400.5 497.1 399.6 499.1 399.6 504.9 400.7 507.9 400.8 511.8 400.0 515.5 398.4 518.0 396.7 520.8 393.9 522.6 391.5 524.5 388.0 526.6 382.4 528.4 375.6 530.4 365.8 534.7 342.2 536.7 332.4 546.9 290.6 548.0 286.8 549.2 284.0 550.3 282.3 551.0 281.7 552.0 281.4 553.0 281.6 553.8 282.2 555.3 283.5 557.1 285.9 559.1 289.3 560.9 293.0 562.3 296.7 563.5 300.5 564.6 305.4 570.7 340.9 573.6 359.7 588.8 474.7 590.4 483.5 592.1 490.3 593.6 495.1 595.6 499.7 597.1 502.3 599.0 504.6 600.6 505.7 602.4 506.6 605.3 507.4 613.1 509.0 615.0 509.6 617.7 511.0 620.0 512.8 622.8 515.8 625.1 519.0 627.5 523.4 630.1 529.9 632.4 537.6 633.9 544.4 637.3 562.1 639.9 573.8 643.6 588.4 650.1 612.5 651.5 617.3 652.7 620.1 653.7 621.8 654.4 622.5 655.2 623.1 656.2 623.2 657.1 623.0 658.7 621.8 660.7 619.5 662.8 616.2 664.7 612.6 666.6 608.0 667.8 604.2 669.0 599.3 670.4 590.4 671.9 574.5 673.1 563.6 679.5 518.0 686.9 454.4 688.8 440.6 690.7 427.7 692.6 416.9 694.6 407.1 697.0 396.3 699.7 385.7 701.9 378.0 703.5 373.2 704.7 370.5 706.5 368.1 707.4 367.6 708.3 367.3 709.3 367.3 710.3 367.6 712.7 369.2 714.8 371.4 717.3 374.6 719.4 377.9 721.2 381.5 724.8 389.8 726.2 392.4 727.8 394.9 730.3 398.1 733.1 401.0 735.4 402.8 738.0 404.3 739.9 404.8 740.9 404.8 741.9 404.6 743.6 403.6 745.6 401.4 750.0 394.7 752.5 391.5 755.4 388.9 757.1 387.8 758.9 386.9 760.9 386.4 761.8 386.3 763.8 386.7 764.7 387.1 765.5 387.7 766.8 389.2 768.7 392.7 770.5 398.5 773.0 410.2 776.6 428.9 780.2 449.5 795.7 547.3 798.8 568.1 801.7 588.9 802.8 595.8 805.2 605.5 806.4 609.3 807.6 612.1 808.5 613.9 809.7 615.5 810.4 616.2 811.3 616.6 812.3 616.7 813.2 616.3 814.0 615.7 815.4 614.3 817.0 611.8 818.5 609.1 820.1 605.5 821.5 601.8 822.7 597.9 823.9 593.1 824.9 587.2 827.5 569.3 832.3 543.8 834.0 532.9 835.4 520.0 838.1 490.1 840.0 474.2 842.3 460.4 849.6 419.0 851.1 411.2 852.7 404.4 856.2 391.9 857.6 388.1 858.9 385.4 860.7 383.0 862.3 381.8 863.2 381.5 864.2 381.6 865.2 381.9 867.6 383.6 871.0 387.3 874.9 393.1 877.8 398.4 879.9 402.9 885.6 418.9 888.3 425.4 891.3 430.6 893.1 432.9 894.5 434.4 896.0 435.7 897.7 436.7 899.6 437.5 901.5 437.9 905.5 438.0 914.5 436.9 917.5 437.1 919.4 437.6 921.2 438.5 923.5 440.4 925.5 442.7 927.2 445.1 930.4 451.3 933.4 458.8 936.4 468.3 940.5 482.7 944.2 497.3 947.8 512.8 950.7 526.6 955.2 550.1 956.7 555.9 958.3 560.7 960.3 565.3 962.7 569.6 965.1 572.9 966.5 574.2 967.4 574.7 968.4 574.9 969.4 574.8 971.2 574.0 973.5 572.2 975.4 569.8 977.3 566.3 978.8 561.5 981.5 543.7 986.3 519.2 988.1 508.4 990.6 490.5 996.0 443.8 999.9 413.1 1004.3 382.4 1008.7 355.7 1011.3 344.0 1012.9 338.3 1014.5 333.5 1016.1 329.8 1017.7 327.3 1019.2 326.1 1020.2 325.9 1021.1 326.3 1021.9 327.0 1023.6 329.4 1025.4 333.0 1027.2 337.7 1029.0 343.4 1030.5 349.2 1033.2 362.9 1035.3 376.8 1037.5 392.6 1047.2 472.0 1052.3 511.7 1057.5 547.4 1061.8 573.0 1062.6 576.9 1063.7 580.8 1065.1 584.5 1066.4 587.2 1068.3 590.7 1070.0 593.2 1072.0 595.4 1073.6 596.6 1074.6 596.9 1075.6 596.8 1076.4 596.3 1077.1 595.5 1078.5 592.9 1079.7 589.1 1086.3 557.8 1090.6 535.2 1095.6 505.6 1099.7 477.9 1103.0 451.1 1107.0 411.3 1108.4 401.4 1110.2 391.5 1112.1 383.8 1114.1 377.0 1116.3 370.4 1118.9 363.9 1120.7 360.3 1122.3 357.8 1123.7 356.4 1124.6 356.0 1125.6 355.9 1126.5 356.4 1127.3 357.0 1128.5 358.6 1130.0 361.2 1131.2 363.9 1134.1 372.4 1136.4 382.2 1149.3 452.0 1153.2 474.7 1155.1 487.5 1156.5 498.4 1159.0 525.3 1159.8 530.3 1160.7 534.2 1162.2 538.9 1163.7 542.6 1165.5 546.2 1167.6 549.6 1170.0 552.8 1172.7 555.8 1175.1 557.5 1177.0 558.1 1178.0 558.1 1179.0 557.8 1180.5 556.6 1182.2 554.1 1183.5 551.5 1186.1 544.9 1188.6 537.3 1190.6 530.6 1192.7 522.9 1194.8 513.1 1196.6 503.3 1201.9 468.7 1204.7 452.9 1208.7 433.3 1214.1 410.0 1215.2 404.1 1216.2 396.1 1217.1 392.2 1218.5 388.5 1219.6 386.8 1221.0 385.4 1223.6 383.9 1225.5 383.3 1227.5 383.1 1229.5 383.2 1231.4 383.7 1233.1 384.8 1234.5 386.2 1235.7 387.8 1237.0 390.5 1238.8 396.2 1245.7 427.5 1249.8 448.1 1253.6 468.8 1260.1 507.2 1262.4 520.0 1265.1 531.7 1268.3 542.2 1270.7 548.8 1272.8 553.3 1274.4 555.9 1275.7 557.4 1276.5 558.0 1277.4 558.5 1278.4 558.7 1279.4 558.6 1281.2 557.8 1283.6 556.0 1286.2 553.0 1289.0 548.8 1291.7 543.5 1293.8 537.9 1295.3 532.1 1296.3 525.1 1297.5 511.2 1298.4 503.2 1304.5 463.7 1309.2 436.1 1313.6 411.5 1316.7 395.8 1320.1 380.2 1323.8 365.6 1325.0 361.8 1326.1 359.0 1327.2 357.3 1327.9 356.6 1328.7 356.1 1329.7 356.0 1330.6 356.3 1332.2 357.6 1334.1 359.9 1335.8 362.4 1339.4 369.5 1342.3 377.0 1344.3 384.7 1345.2 389.6 1346.2 396.6 1358.0 491.8 1360.7 510.6 1363.7 528.4 1371.9 570.6 1374.2 581.4 1375.6 587.2 1377.2 592.0 1378.0 593.8 1379.1 595.5 1379.8 596.2 1380.6 596.6 1381.6 596.7 1382.5 596.2 1384.0 594.9 1385.9 592.5 1387.9 589.1 1390.1 584.6 1391.6 580.9 1393.2 576.2 1395.3 567.4 1396.4 560.5 1399.2 539.7 1406.5 488.2 1417.5 397.8 1420.2 377.0 1422.1 364.1 1423.3 357.3 1424.8 350.4 1426.6 343.7 1428.7 337.0 1430.5 332.3 1432.3 328.7 1433.5 327.1 1434.3 326.5 1435.2 326.2 1436.2 326.5 1437.7 327.8 1439.3 330.3 1440.6 333.0 1442.4 337.7 1443.9 342.4 1446.2 352.2 1450.7 377.8 1453.4 395.6 1456.4 418.4 1462.2 467.1 1464.8 487.9 1467.4 505.7 1473.5 544.2 1475.2 553.1 1477.4 560.8 1480.0 567.2 1483.0 572.5 1484.3 574.0 1485.1 574.6 1486.0 574.9 1487.0 574.9 1488.9 574.2 1491.3 572.5 1493.4 570.3 1495.0 567.8 1496.7 564.2 1498.1 559.4 1503.1 534.9 1508.0 512.4 1512.8 491.9 1516.9 475.4 1519.7 465.8 1522.4 458.3 1525.5 450.9 1528.7 444.7 1530.3 442.2 1532.3 439.9 1534.6 438.1 1536.5 437.3 1538.5 437.0 1540.5 437.0 1549.3 438.6 1551.3 438.8 1553.3 438.8 1556.2 438.0 1557.9 437.0 1559.5 435.8 1561.5 433.6 1563.8 430.3 1565.9 426.9 1568.6 421.6 1572.2 413.3 1577.3 399.2 1579.0 395.6 1581.0 392.1 1584.6 387.3 1586.6 385.1 1588.1 383.8 1590.7 382.3 1592.7 382.0 1593.7 382.3 1595.2 383.5 1596.4 385.1 1597.7 387.8 1599.3 392.5 1602.2 403.1 1604.8 413.8 1607.2 424.6 1609.3 435.4 1612.5 455.1 1616.3 482.9 1618.8 503.7 1622.3 536.5 1623.7 547.4 1625.5 558.3 1630.8 582.7 1631.7 588.7 1632.7 597.6 1633.4 601.5 1634.2 604.4 1635.3 607.2 1637.8 611.5 1639.7 613.8 1641.2 615.2 1642.9 616.2 1643.9 616.5 1644.9 616.4 1645.8 616.0 1646.5 615.4 1647.7 613.8 1648.5 612.0 1650.3 606.2 1652.8 594.5 1656.0 575.8 1662.2 530.2 1670.9 479.9 1677.5 435.4 1679.7 423.6 1685.2 399.2 1686.2 395.3 1687.6 391.6 1689.0 388.9 1690.3 387.4 1691.1 386.8 1692.0 386.4 1694.0 386.1 1695.0 386.3 1696.9 386.9 1700.3 389.0 1703.2 391.7 1705.6 394.9 1710.0 401.6 1712.1 403.8 1713.8 404.7 1714.8 404.8 1715.8 404.8 1717.7 404.2 1720.3 402.6 1723.3 400.0 1726.1 397.1 1728.5 393.9 1731.0 389.6 1736.9 376.9 1738.9 373.5 1741.3 370.2 1743.3 368.0 1745.0 366.9 1745.9 366.6 1746.9 366.6 1747.8 366.9 1748.6 367.5 1750.5 369.9 1752.2 373.5 1754.1 379.2 1756.6 387.8 1758.8 396.6 1760.7 405.4 1764.6 427.0 1767.2 443.8 1769.7 462.6 1779.0 541.1 1781.2 557.0 1785.2 583.7 1787.3 601.6 1787.9 605.5 1788.9 609.4 1789.9 612.2 1791.2 614.9 1793.2 618.3 1795.0 620.7 1797.2 622.8 1799.0 623.7 1799.9 623.8 1800.9 623.5 1801.7 622.9 1802.9 621.3 1804.2 618.6 1805.4 614.8 1810.7 592.4 1816.4 571.2 1817.9 564.3 1821.0 547.6 1822.7 539.8 1825.2 531.2 1828.3 523.7 1830.6 519.3 1832.7 516.0 1835.3 512.9 1837.6 511.0 1840.2 509.5 1842.1 508.8 1852.9 506.8 1854.8 506.1 1856.5 505.0 1857.9 503.6 1859.4 501.0 1860.5 498.2 1862.3 492.5 1864.2 485.8 1866.0 478.0 1867.6 470.1 1868.9 462.2 1870.5 450.3 1873.8 420.5 1876.5 399.7 1888.0 320.5 1889.3 312.6 1890.6 306.8 1892.0 302.0 1893.5 297.2 1895.8 291.6 1897.9 287.1 1900.0 283.7 1901.3 282.2 1902.1 281.6 1903.1 281.3 1904.0 281.6 1904.8 282.2 1905.8 283.9 1907.0 286.7 1908.5 291.4 1914.7 313.6 1916.4 320.4 1917.9 327.2 1922.9 355.8 1925.4 367.5 1927.1 374.3 1929.1 381.0 1931.1 386.7 1933.1 391.3 1934.5 393.9 1936.3 396.3 1938.4 398.4 1940.2 399.4 1943.0 400.4 1947.0 400.8 1949.9 400.6 1956.8 399.2 1958.8 399.3 1959.7 399.7 1961.1 401.1 1962.0 402.9 1963.0 405.7 1965.5 420.5 1968.7 433.1 1969.8 438.0 1972.1 452.8 1978.1 497.4 1986.6 570.9 1990.8 600.7 1992.9 613.5 1994.5 621.3 1996.7 630.0 1999.0 636.7 2000.2 639.4 2001.8 642.0 2003.1 643.5 2004.8 644.6 2005.7 644.8 2007.7 644.7 2009.5 643.8 2011.1 642.6 2013.8 639.7 2015.7 636.2 2016.8 633.4 2020.0 622.8 2021.5 619.2 2023.5 615.7 2025.2 613.2 2027.4 611.2 2029.1 610.2 2030.1 610.1 2031.1 610.2 2032.9 611.0 2034.4 612.3 2036.3 614.7 2038.4 618.1 2040.6 622.6 2043.0 628.1 2048.8 644.0 2051.1 649.6 2052.6 652.2 2054.3 654.6 2055.9 655.8 2056.9 656.0 2057.9 655.8 2058.7 655.3 2060.1 653.8 2061.7 651.3 2063.0 648.6 2064.6 644.9 2066.1 640.2 2068.1 631.4 2070.7 615.6 2073.2 597.8 2081.0 533.2 2084.3 508.4 2088.7 480.8 2094.4 447.3 2095.6 441.4 2096.5 438.5 2097.6 435.7 2099.0 433.1 2100.1 431.4 2103.3 427.6 2109.8 421.3 2113.2 417.6 2116.9 412.9 2119.6 408.7 2122.0 404.3 2124.0 399.7 2125.9 394.1 2127.3 388.2 2128.5 382.3 2129.3 376.4 2132.9 345.6 2140.0 292.1 2141.7 276.2 2144.4 248.3 2146.1 234.4 2148.0 223.5 2150.4 212.8 2153.8 201.3 2154.8 198.5 2156.1 195.8 2157.3 194.2 2158.1 193.6 2159.1 193.3 2160.1 193.4 2161.0 193.7 2162.7 194.7 2164.9 196.8 2167.3 200.0 2169.3 203.4 2170.5 206.2 2173.3 213.7 2174.6 216.4 2176.4 218.8 2177.9 220.2 2180.4 221.8 2183.2 222.8 2185.2 222.8 2186.2 222.5 2187.9 221.5 2189.3 220.1 2190.9 217.6 2193.2 212.1 2200.5 188.1 2205.5 168.8 2208.4 160.3 2210.1 156.6 2211.2 155.0 2212.0 154.3 2212.9 154.0 2213.8 154.3 2214.5 155.0 2215.6 156.7 2216.4 158.5 2218.3 164.2 2221.4 175.8 2223.7 186.6 2227.5 207.2 2233.9 248.8 2237.0 267.5 2241.0 288.1 2242.9 296.9 2244.3 301.7 2245.6 305.5 2247.4 309.1 2249.7 312.3 2252.0 314.3 2254.6 315.8 2257.4 316.7 2261.4 317.1 2265.4 316.7" stroke="#ff0000" stroke-width="9.6" stroke-dasharray="10.4 7.6"/>
</g>
<rect x="1266.5" y="521.75" width="975" height="196.15" fill="#ffffff" stroke="#262626" stroke-width="1.4"/>
<line x1="1276.2" y1="556.8" x2="1369.8" y2="556.8" stroke="#000" stroke-width="12"/>
<line x1="1276.2" y1="619.6" x2="1369.8" y2="619.6" stroke="#0000ff" stroke-width="10.5" stroke-dasharray="36.8 7.8 19.6 7.2 22.1 100"/>
<line x1="1276.2" y1="682.7" x2="1369.8" y2="682.7" stroke="#ff0000" stroke-width="9.6" stroke-dasharray="10.4 7.6"/>
<g fill="#000" font-size="46">
<text x="1379" y="567" textLength="553.75" lengthAdjust="spacingAndGlyphs">Matched Filtered Spectrum</text>
<text x="1379" y="630" textLength="648" lengthAdjust="spacingAndGlyphs">Precise Approximation Formula</text>
<text x="1379" y="693.75" textLength="851" lengthAdjust="spacingAndGlyphs">Simplified Approximate Spectrum Model</text>
</g>
</svg>
</body></html>
